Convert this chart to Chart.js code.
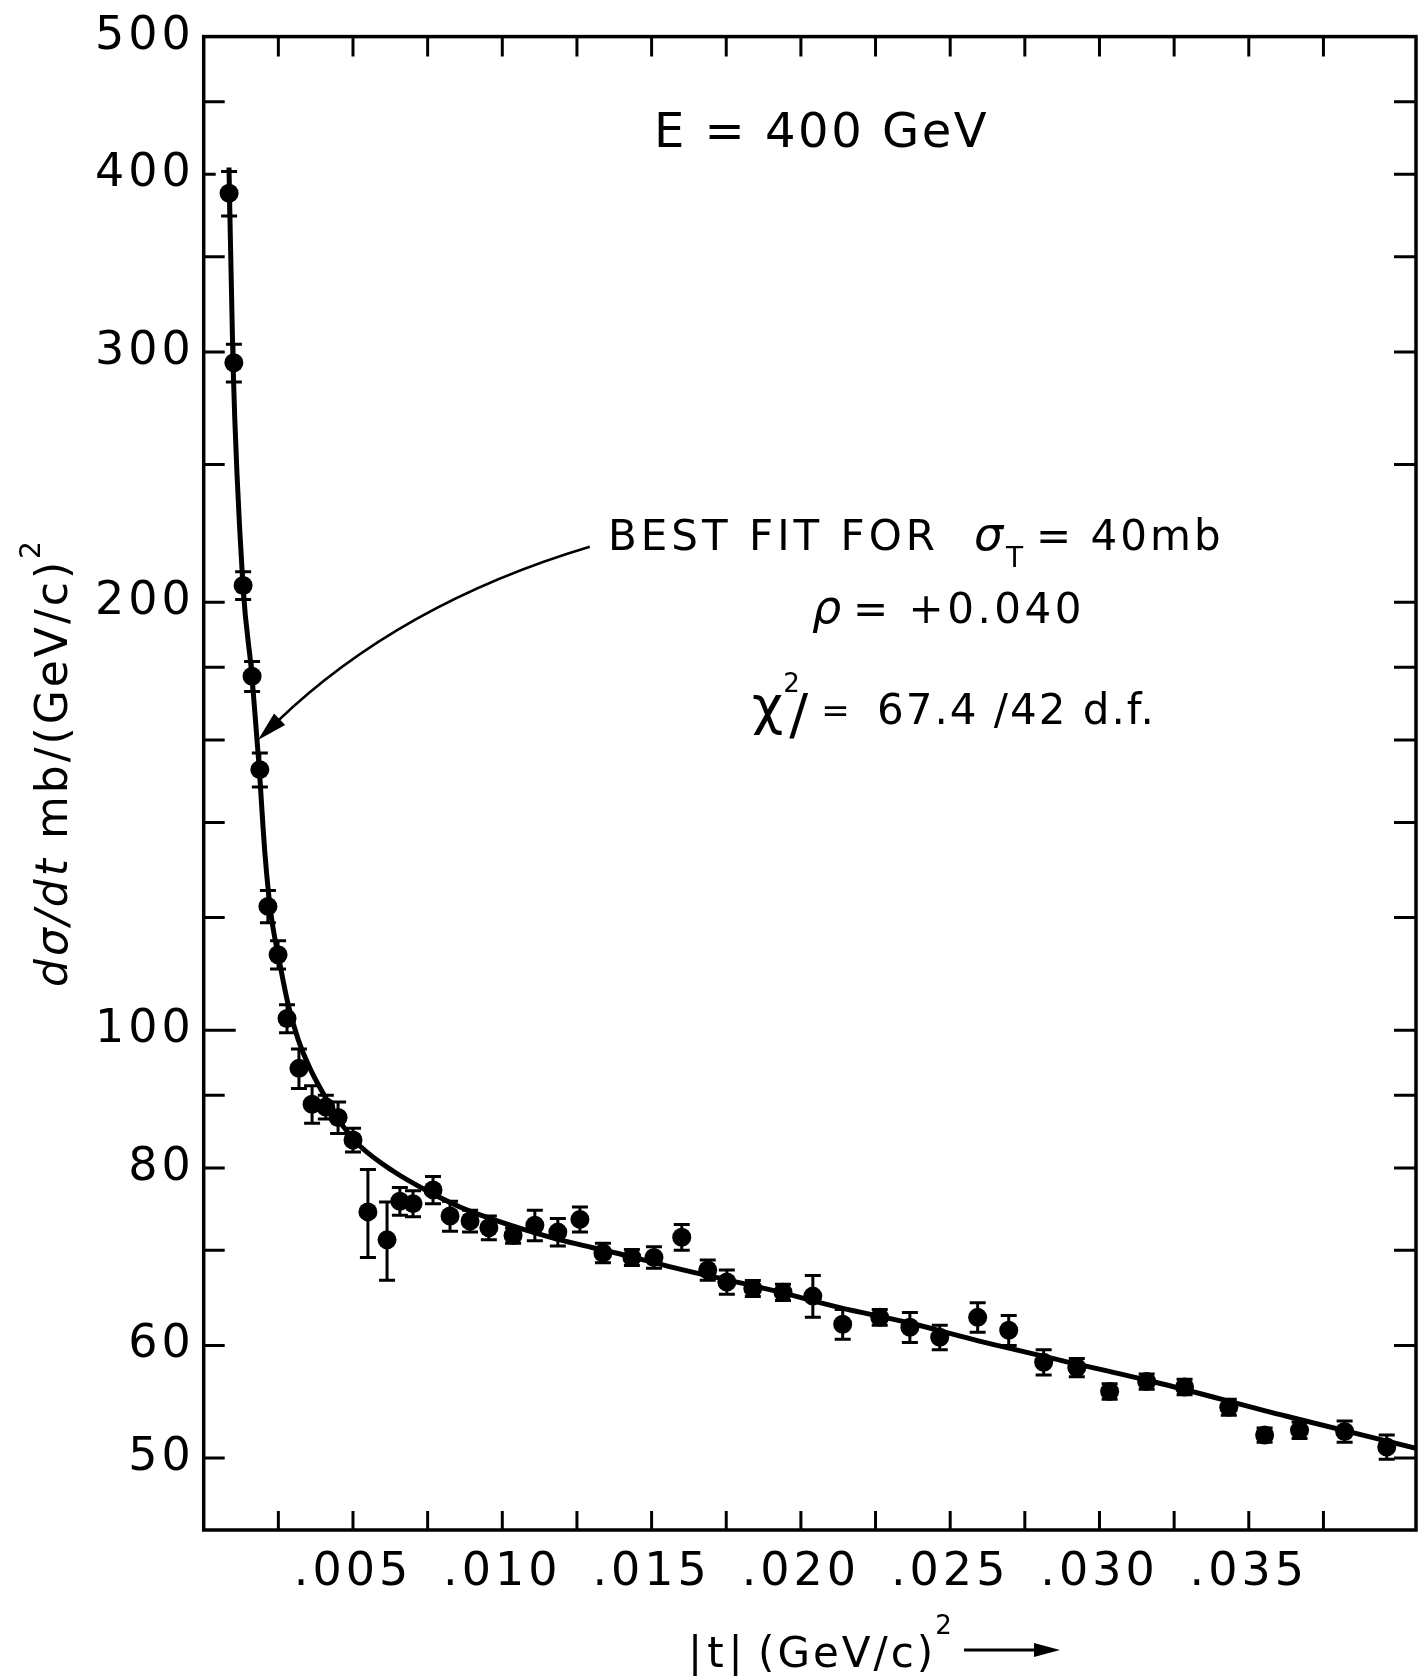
<!DOCTYPE html>
<html>
<head>
<meta charset="utf-8">
<script src="https://cdn.jsdelivr.net/npm/chart.js@4.4.1/dist/chart.umd.min.js"></script>
<style>
  html, body { margin: 0; padding: 0; background: #ffffff; }
  #wrap { width: 1427px; height: 1676px; position: relative; }
  canvas { display: block; }
</style>
</head>
<body>
<div id="wrap"><canvas id="chart" width="1427" height="1676"></canvas></div>
<script>
// ---------------- data ----------------
const tValues = [0.00085, 0.00101, 0.00132, 0.00162, 0.00188, 0.00215, 0.00249, 0.00279, 0.00319, 0.00363,
  0.00409, 0.00450, 0.00500, 0.00550, 0.00614, 0.00657, 0.00701, 0.00768, 0.00825, 0.00892,
  0.00955, 0.01036, 0.01109, 0.01186, 0.01260, 0.01337, 0.01434, 0.01508, 0.01601, 0.01688,
  0.01752, 0.01839, 0.01940, 0.02040, 0.02140, 0.02264, 0.02365, 0.02465, 0.02592, 0.02696,
  0.02813, 0.02924, 0.03034, 0.03158, 0.03285, 0.03433, 0.03553, 0.03670, 0.03821, 0.03962];

const dsdtValues = [387.9, 294.8, 205.5, 177.4, 152.5, 122.2, 113.0, 101.9, 94.0, 88.7,
  88.3, 86.8, 83.7, 74.5, 71.2, 75.8, 75.5, 77.2, 74.0, 73.4,
  72.6, 71.7, 72.9, 72.1, 73.6, 69.7, 69.2, 69.2, 71.5, 67.8,
  66.5, 65.8, 65.4, 65.0, 62.1, 62.8, 61.8, 60.8, 62.8, 61.5,
  58.4, 57.9, 55.7, 56.6, 56.1, 54.3, 51.9, 52.3, 52.2, 50.9];

const dsdtErrors = [14.0, 9.0, 4.6, 4.3, 4.2, 3.2, 2.6, 2.3, 3.0, 2.7,
  1.7, 2.2, 1.6, 5.3, 4.5, 1.7, 1.6, 1.7, 1.8, 1.3,
  1.4, 0.9, 1.8, 1.6, 1.5, 1.1, 0.9, 1.2, 1.5, 1.1,
  1.3, 0.85, 0.85, 2.2, 1.5, 0.8, 1.5, 1.2, 1.5, 1.5,
  1.2, 0.85, 0.7, 0.7, 0.7, 0.7, 0.6, 0.7, 0.9, 1.0];

// best-fit curve
const fitT = [0.000847, 0.000981, 0.001316, 0.001617, 0.001851, 0.002052, 0.002253, 0.002521, 0.002822, 0.003157,
  0.003559, 0.004128, 0.004664, 0.005233, 0.006338, 0.007476, 0.008581, 0.009686, 0.010824, 0.011929,
  0.013034, 0.014172, 0.015947, 0.019060, 0.021303, 0.023546, 0.025755, 0.028668, 0.031781, 0.036267, 0.0406];
const fitValues = [404.5, 294.8, 205.5, 177.4, 153.7, 133.0, 120.7, 112.2, 104.4, 98.6,
  94.0, 89.3, 85.6, 82.9, 79.6, 77.1, 75.1, 73.6, 72.3, 71.2,
  70.3, 69.4, 67.9, 65.6, 63.8, 62.3, 60.6, 58.6, 56.6, 53.5, 50.8];

// axes
const xTickValues = [0.005, 0.010, 0.015, 0.020, 0.025, 0.030, 0.035];
const xTickLabels = ['.005', '.010', '.015', '.020', '.025', '.030', '.035'];
const xMinorTicks = [0.0025, 0.0075, 0.0125, 0.0175, 0.0225, 0.0275, 0.0325, 0.0375];
const yTickValues = [50, 60, 80, 100, 200, 300, 400, 500];
const yTickLabels = ['50', '60', '80', '100', '200', '300', '400', '500'];
const yMinorTicks = [70, 90, 120, 140, 160, 180, 250, 350, 450];
const xRange = [0, 0.0406];
const yRange = [44.5, 500];

// annotation anchor points (data coordinates)
const arrowStart = [0.01293, 218.8];
const arrowControl = [0.00657, 199.6];
const arrowTip = [0.001818, 160.0];

// ---------------- helpers ----------------
const FONT = '"DejaVu Sans", "Liberation Sans", sans-serif';
function setFont(ctx, size, opt) {
  ctx.font = (opt.italic ? 'italic ' : '') + size + 'px ' + FONT;
  ctx.letterSpacing = (opt.ls || 0) + 'px';
}
function drawText(ctx, s, x, y, size, opt) {
  opt = opt || {};
  ctx.save();
  setFont(ctx, size, opt);
  ctx.fillStyle = '#000';
  ctx.textAlign = 'left';
  ctx.textBaseline = 'alphabetic';
  ctx.fillText(s, x, y);
  const w = ctx.measureText(s).width;
  ctx.restore();
  return w;
}
function measure(ctx, s, size, opt) {
  opt = opt || {};
  ctx.save();
  setFont(ctx, size, opt);
  const w = ctx.measureText(s).width;
  ctx.restore();
  return w;
}

// ---------------- plugins ----------------
const letterSpacingPlugin = {
  id: 'letterSpacing',
  beforeDraw(chart) { chart.ctx.letterSpacing = '4px'; },
  afterDraw(chart) { chart.ctx.letterSpacing = '0px'; }
};

const framePlugin = {
  id: 'frame',
  beforeDatasetsDraw(chart) {
    const ctx = chart.ctx;
    const a = chart.chartArea;
    const xs = chart.scales.x, ys = chart.scales.y;
    ctx.save();
    ctx.strokeStyle = '#000';
    ctx.lineWidth = 3.5;
    ctx.lineCap = 'butt';
    ctx.strokeRect(a.left, a.top, a.right - a.left, a.bottom - a.top);
    ctx.lineWidth = 3;
    ctx.beginPath();
    const yt = yTickValues.concat(yMinorTicks);
    yt.forEach(v => {
      if (v >= yRange[1]) return;
      const p = ys.getPixelForValue(v);
      const len = (v === 100) ? 32 : (v === 400 ? 12 : 21);
      ctx.moveTo(a.left, p); ctx.lineTo(a.left + len, p);
      ctx.moveTo(a.right, p); ctx.lineTo(a.right - 22, p);
    });
    const xt = xTickValues.concat(xMinorTicks);
    xt.forEach(v => {
      const p = xs.getPixelForValue(v);
      ctx.moveTo(p, a.bottom); ctx.lineTo(p, a.bottom - 19);
      ctx.moveTo(p, a.top); ctx.lineTo(p, a.top + 20);
    });
    ctx.stroke();

    // error bars
    ctx.lineWidth = 3;
    ctx.beginPath();
    tValues.forEach((t, i) => {
      const px = xs.getPixelForValue(t);
      const hi = ys.getPixelForValue(dsdtValues[i] + dsdtErrors[i]);
      const lo = ys.getPixelForValue(dsdtValues[i] - dsdtErrors[i]);
      ctx.moveTo(px, hi); ctx.lineTo(px, lo);
      ctx.moveTo(px - 8, hi); ctx.lineTo(px + 8, hi);
      ctx.moveTo(px - 8, lo); ctx.lineTo(px + 8, lo);
    });
    ctx.stroke();
    ctx.restore();
  }
};

const annotationPlugin = {
  id: 'annotations',
  afterDraw(chart) {
    const ctx = chart.ctx;
    const xs = chart.scales.x, ys = chart.scales.y;

    // E = 400 GeV
    drawText(ctx, 'E = 400 GeV', 654, 147, 48, { ls: 2.5 });

    // BEST FIT FOR sigma_T = 40mb
    drawText(ctx, 'BEST FIT FOR', 608, 550, 42, { ls: 4 });
    drawText(ctx, 'σ', 974, 550, 46, { italic: true });
    drawText(ctx, 'T', 1006, 567, 28, {});
    drawText(ctx, '= 40mb', 1036, 550, 42, { ls: 3 });

    // rho
    drawText(ctx, 'ρ', 812, 623, 46, { italic: true });
    drawText(ctx, '= +0.040', 853, 623, 42, { ls: 3.5 });

    // chi^2
    const wc = drawText(ctx, 'χ', 752, 724, 54, {});
    drawText(ctx, '2', 752 + wc, 692, 26, {});
    drawText(ctx, '/', 752 + wc + 6, 733, 56, {});
    drawText(ctx, '=', 752 + wc + 38, 722, 34, {});
    drawText(ctx, '67.4 /42 d.f.', 877, 724, 42, { ls: 2 });

    // arrow pointing to the fit curve
    const sx = xs.getPixelForValue(arrowStart[0]), sy = ys.getPixelForValue(arrowStart[1]);
    const cx = xs.getPixelForValue(arrowControl[0]), cy = ys.getPixelForValue(arrowControl[1]);
    const tx = xs.getPixelForValue(arrowTip[0]), ty = ys.getPixelForValue(arrowTip[1]);
    ctx.save();
    ctx.strokeStyle = '#000';
    ctx.fillStyle = '#000';
    ctx.lineWidth = 2.5;
    let dx = tx - cx, dy = ty - cy;
    const dl = Math.hypot(dx, dy); dx /= dl; dy /= dl;
    const hl = 30, hw = 8;
    const bx = tx - dx * hl, by = ty - dy * hl;
    ctx.beginPath();
    ctx.moveTo(sx, sy);
    ctx.quadraticCurveTo(cx, cy, bx + dx * 4, by + dy * 4);
    ctx.stroke();
    ctx.beginPath();
    ctx.moveTo(tx, ty);
    ctx.lineTo(bx - dy * hw, by + dx * hw);
    ctx.lineTo(bx + dy * hw, by - dx * hw);
    ctx.closePath();
    ctx.fill();
    ctx.restore();

    // y-axis title (rotated)
    const yParts = [
      { s: 'dσ/dt', size: 44, italic: true, ls: 3, dy: 0 },
      { s: ' mb/(GeV/c)', size: 44, ls: 3, dy: 0 },
      { s: '2', size: 28, ls: 0, dy: -27 }
    ];
    let total = 0;
    yParts.forEach(p => { total += measure(ctx, p.s, p.size, p); });
    ctx.save();
    ctx.translate(67, 764 + total / 2);
    ctx.rotate(-Math.PI / 2);
    let pos = 0;
    yParts.forEach(p => { pos += drawText(ctx, p.s, pos, p.dy, p.size, p); });
    ctx.restore();

    // x-axis title
    drawText(ctx, '|t|', 688, 1667, 42, { ls: 5 });
    const w = drawText(ctx, '(GeV/c)', 758, 1667, 42, { ls: 3 });
    drawText(ctx, '2', 758 + w - 1, 1634, 26, {});
    ctx.save();
    ctx.strokeStyle = '#000';
    ctx.fillStyle = '#000';
    ctx.lineWidth = 3;
    ctx.beginPath();
    ctx.moveTo(964, 1650); ctx.lineTo(1040, 1650);
    ctx.stroke();
    ctx.beginPath();
    ctx.moveTo(1060, 1650); ctx.lineTo(1034, 1643); ctx.lineTo(1034, 1657);
    ctx.closePath();
    ctx.fill();
    ctx.restore();
  }
};

// ---------------- chart ----------------
const points = tValues.map((t, i) => ({ x: t, y: dsdtValues[i] }));
const fitPoints = fitT.map((t, i) => ({ x: t, y: fitValues[i] }));

new Chart(document.getElementById('chart'), {
  type: 'scatter',
  data: {
    datasets: [
      {
        label: 'Best fit',
        type: 'line',
        data: fitPoints,
        borderColor: '#000',
        borderWidth: 5,
        pointRadius: 0,
        fill: false,
        cubicInterpolationMode: 'monotone',
        order: 2
      },
      {
        label: 'dσ/dt',
        data: points,
        backgroundColor: '#000',
        borderColor: '#000',
        borderWidth: 0,
        pointRadius: 9.5,
        pointHoverRadius: 9.5,
        order: 1
      }
    ]
  },
  options: {
    responsive: false,
    animation: false,
    devicePixelRatio: 1,
    events: [],
    layout: { padding: { top: 28.5, right: 11, left: 0, bottom: 0 } },
    plugins: { legend: { display: false }, tooltip: { enabled: false }, title: { display: false } },
    scales: {
      x: {
        type: 'linear',
        position: 'bottom',
        min: xRange[0],
        max: xRange[1],
        grid: { display: false, drawTicks: false },
        border: { display: false },
        ticks: {
          autoSkip: false, maxRotation: 0, minRotation: 0, padding: 15,
          color: '#000', font: { family: 'DejaVu Sans', size: 46 },
          callback: (v) => {
            const i = xTickValues.findIndex(t => Math.abs(t - v) < 1e-9);
            return i >= 0 ? xTickLabels[i] : '';
          }
        },
        afterBuildTicks: (s) => { s.ticks = xTickValues.map(v => ({ value: v })); },
        afterFit: (s) => { s.height = 146; }
      },
      y: {
        type: 'logarithmic',
        position: 'left',
        min: yRange[0],
        max: yRange[1],
        grid: { display: false, drawTicks: false },
        border: { display: false },
        ticks: {
          autoSkip: false, padding: 9,
          color: '#000', font: { family: 'DejaVu Sans', size: 46 },
          callback: (v) => {
            const i = yTickValues.findIndex(t => Math.abs(t - v) < 1e-6);
            return i >= 0 ? yTickLabels[i] : '';
          }
        },
        afterBuildTicks: (s) => { s.ticks = yTickValues.map(v => ({ value: v })); },
        afterFit: (s) => { s.width = 203.7; }
      }
    }
  },
  plugins: [letterSpacingPlugin, framePlugin, annotationPlugin]
});
</script>
</body>
</html>
